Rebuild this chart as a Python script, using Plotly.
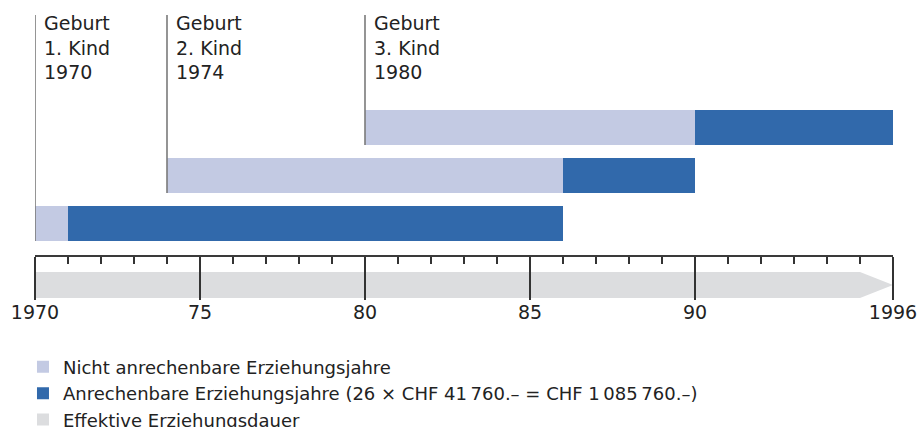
import plotly.graph_objects as go

# ---- data ----
children = ["1. Kind", "2. Kind", "3. Kind"]
birth_years = [1970, 1974, 1980]
credit_start = [1971, 1986, 1990]   # start of "anrechenbare" years
credit_end = [1986, 1990, 1996]
effective_start = 1970
effective_end = 1996
tick_vals = [1970, 1975, 1980, 1985, 1990, 1996]
tick_text = ["1970", "75", "80", "85", "90", "1996"]
legend_names = [
    "Nicht anrechenbare Erziehungsjahre",
    "Anrechenbare Erziehungsjahre (26 × CHF 41\u2009760.– = CHF 1\u2009085\u2009760.–)",
    "Effektive Erziehungsdauer",
]

# ---- styles ----
LIGHT = "#C3CAE3"
DARK = "#3169AB"
BAND = "#DCDDDF"
TEXT = "#222222"
FONT = "DejaVu Sans"
BAR_W = 0.73
BAND_W = 0.54
BAND_Y = -1.28
LINE_TOP = 4.344
Y_RANGE = [-1.594, 4.656]

rows = list(range(len(children)))

fig = go.Figure()

fig.add_trace(go.Bar(
    orientation="h", y=rows,
    x=[c - b for b, c in zip(birth_years, credit_start)],
    base=birth_years, width=BAR_W,
    marker=dict(color=LIGHT, line=dict(width=0)),
    name=legend_names[0], hoverinfo="skip",
))
fig.add_trace(go.Bar(
    orientation="h", y=rows,
    x=[e - c for c, e in zip(credit_start, credit_end)],
    base=credit_start, width=BAR_W,
    marker=dict(color=DARK, line=dict(width=0)),
    name=legend_names[1], hoverinfo="skip",
))
# effective duration band (body + arrow head)
fig.add_trace(go.Bar(
    orientation="h", y=[BAND_Y],
    x=[effective_end - 1 - effective_start], base=[effective_start],
    width=BAND_W, marker=dict(color=BAND, line=dict(width=0)),
    name=legend_names[2], hoverinfo="skip",
))
fig.add_trace(go.Scatter(
    x=[effective_end - 1, effective_end, effective_end - 1, effective_end - 1],
    y=[BAND_Y + BAND_W / 2, BAND_Y, BAND_Y - BAND_W / 2, BAND_Y + BAND_W / 2],
    mode="lines", fill="toself", fillcolor=BAND, line=dict(width=0, color=BAND),
    showlegend=False, hoverinfo="skip",
))

# birth marker lines
lx, ly = [], []
for r, b in zip(rows, birth_years):
    lx += [b, b, None]
    ly += [LINE_TOP, r - BAR_W / 2, None]
fig.add_trace(go.Scatter(
    x=lx, y=ly, mode="lines", line=dict(color="#7A7A7A", width=1.6),
    showlegend=False, hoverinfo="skip",
))

for c, b in zip(children, birth_years):
    fig.add_annotation(
        x=b, y=LINE_TOP, xref="x", yref="y",
        text=f"Geburt<br>{c}<br>{b}", showarrow=False,
        xanchor="left", yanchor="top", align="left", xshift=7, yshift=5,
        font=dict(family=FONT, size=19, color=TEXT),
    )

fig.update_layout(
    width=919, height=427,
    margin=dict(l=35, r=26, t=0, b=127, autoexpand=False),
    paper_bgcolor="white", plot_bgcolor="white",
    barmode="overlay",
    showlegend=True,
    legend=dict(
        x=-0.014, xanchor="left", y=-0.162, yanchor="top",
        font=dict(family=FONT, size=18, color=TEXT),
        bgcolor="rgba(0,0,0,0)", traceorder="normal",
    ),
    xaxis=dict(
        range=[effective_start, effective_end],
        anchor="free", position=0.15, side="bottom",
        showgrid=False, zeroline=False,
        showline=True, linecolor="#3A3A3A", linewidth=1.6,
        ticks="outside", ticklen=43, tickwidth=1.6, tickcolor="#333333",
        tickmode="array", tickvals=tick_vals, ticktext=tick_text,
        tickfont=dict(family=FONT, size=19, color=TEXT),
        ticklabelstandoff=-3,
        minor=dict(ticks="outside", dtick=1, tick0=effective_start,
                   ticklen=7, tickwidth=1.2, tickcolor="#333333", showgrid=False),
        fixedrange=True,
    ),
    yaxis=dict(range=Y_RANGE, visible=False, fixedrange=True),
)

fig.write_html(
    "out.html",
    config={"displayModeBar": False, "staticPlot": True},
    post_script="document.body.style.margin='0';document.body.style.overflow='hidden';",
)
